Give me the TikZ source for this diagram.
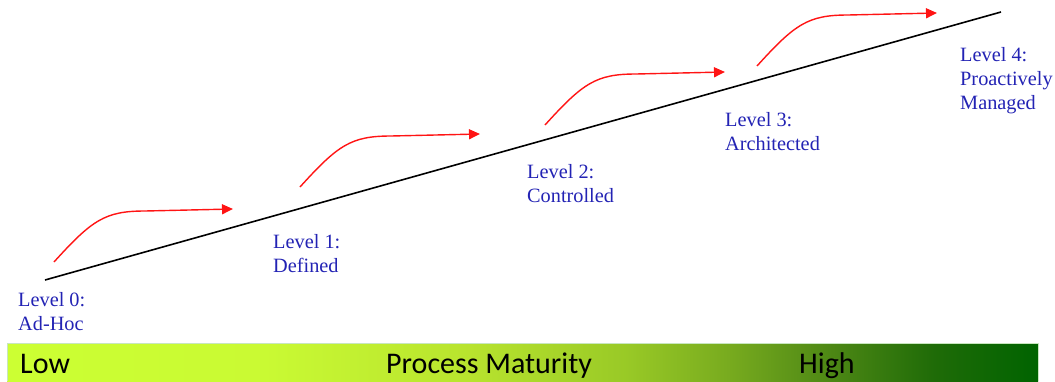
\documentclass[tikz,border=0pt]{standalone}
\usepackage{fontspec}
\setmainfont{Liberation Serif}
\newfontfamily\barfont{Carlito}
\usetikzlibrary{arrows.meta}
\definecolor{lvlblue}{RGB}{35,35,180}
\definecolor{arrred}{RGB}{255,20,20}
\definecolor{baredge}{RGB}{200,230,190}
\pgfdeclarehorizontalshading{maturity}{100bp}{%
  rgb(0bp)=(0.80,1.00,0.20);
  rgb(25bp)=(0.80,1.00,0.20);
  rgb(37.5bp)=(0.79,0.98,0.20);
  rgb(47.5bp)=(0.72,0.89,0.18);
  rgb(55bp)=(0.60,0.79,0.15);
  rgb(60bp)=(0.47,0.67,0.12);
  rgb(65bp)=(0.30,0.53,0.08);
  rgb(70bp)=(0.12,0.42,0.03);
  rgb(75bp)=(0.00,0.39,0.00);
  rgb(100bp)=(0.00,0.39,0.00)}
\begin{document}
\begin{tikzpicture}[x=1pt,y=-1pt,
  lvl/.style={anchor=north west,inner sep=0pt,align=left,text=lvlblue,
    font=\fontsize{20.3}{24}\selectfont},
  bartext/.style={anchor=base west,inner sep=0pt,font=\barfont\fontsize{30}{36}\selectfont},
  stepline/.style={line width=1.6pt,black},
  risearrow/.style={line width=1.4pt,arrred,-{Triangle[length=11pt,width=10pt]}}]
\useasboundingbox (0,0) rectangle (1055,381);
% bar
\shade[shading=maturity] (7,343) rectangle (1038,381);
\draw[baredge,line width=0.8pt] (7,381) -- (7,343) -- (1038,343) -- (1038,381);
\node[bartext] (low) at (20,373) {Low};
\node[bartext] (pm) at (386,373) {Process Maturity};
\node[bartext] (high) at (799,373) {High};
% main line
\coordinate (lstart) at (45,280);
\coordinate (lend) at (1001,12);
\draw[stepline] (lstart) -- (lend);
% labels
\node[lvl] (l0) at (18,292) {Level 0:\\Ad-Hoc};
\node[lvl] (l1) at (273,234.5) {Level 1:\\Defined};
\node[lvl] (l2) at (527,164) {Level 2:\\Controlled};
\node[lvl] (l3) at (725,112) {Level 3:\\Architected};
\node[lvl] (l4) at (960,47.5) {Level 4:\\Proactively\\Managed};
% arrows
\coordinate (s1) at (54,262);  \coordinate (k1) at (145,211); \coordinate (e1) at (233,209);
\coordinate (s2) at (300,187); \coordinate (k2) at (391,136); \coordinate (e2) at (480,134);
\coordinate (s3) at (545,125); \coordinate (k3) at (636,74);  \coordinate (e3) at (725,72);
\coordinate (s4) at (757,66);  \coordinate (k4) at (848,15);  \coordinate (e4) at (937,13);
\draw[risearrow] (s1) .. controls (92,220) and (105,211) .. (k1) -- (e1);
\draw[risearrow] (s2) .. controls (338,145) and (351,136) .. (k2) -- (e2);
\draw[risearrow] (s3) .. controls (583,83) and (596,74) .. (k3) -- (e3);
\draw[risearrow] (s4) .. controls (795,24) and (808,15) .. (k4) -- (e4);
\end{tikzpicture}
\end{document}
